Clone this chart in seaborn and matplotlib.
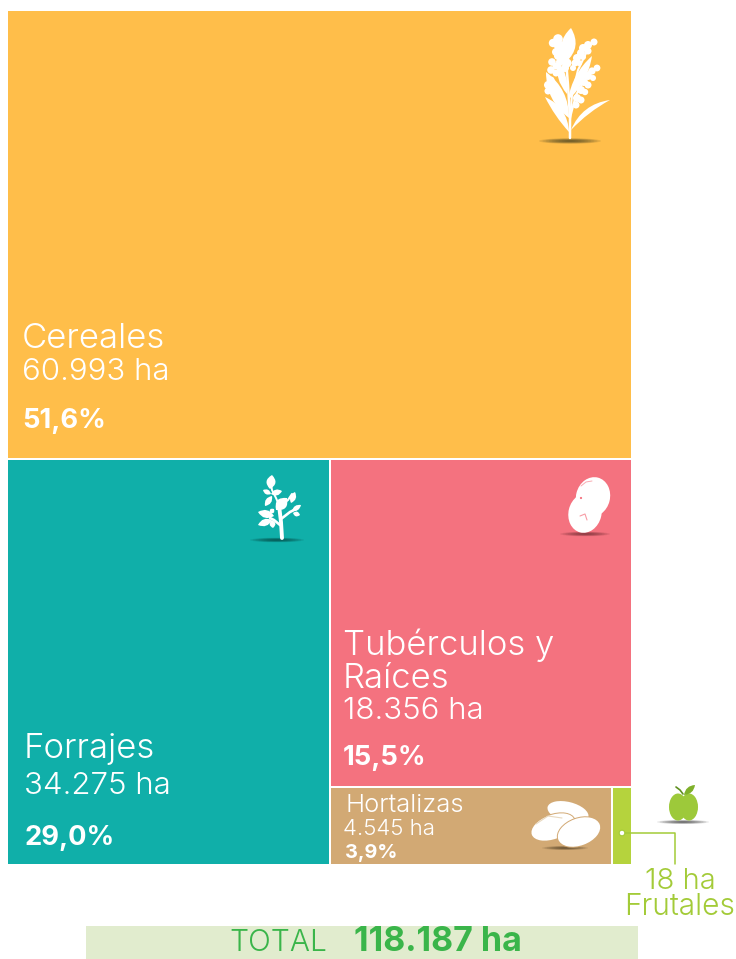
import numpy as np
import pandas as pd
import seaborn as sns
import matplotlib.pyplot as plt
from matplotlib.patches import Circle, Ellipse, PathPatch, Rectangle
from matplotlib.path import Path

cultivos = ['Cereales', 'Forrajes', 'Tubérculos y\nRaíces', 'Hortalizas', 'Frutales']
hectareas = [60993, 34275, 18356, 4545, 18]
porcentajes = [51.6, 29.0, 15.5, 3.9]
total_ha = 118187
colores = ['#FFBE4A', '#10AFA9', '#F4727F', '#D2A974', '#B5D33D']

# el original no es proporcional: Frutales no se veria. Cortes
corte_cereales = 0.5248
corte_forrajes = 0.5168
corte_tuberculos = 0.8070
corte_hortalizas = 0.9320

X0, X1, Y0, Y1 = 6.5, 632.5, 10, 865.5
GAP = 2.4
FUENTE = 'Inter'
VERDE = '#A3CB38'


def miles(n):
    return f'{n:,}'.replace(',', '.')


def coma(p):
    return f'{p:.1f}%'.replace('.', ',')


def layout():
    ancho = X1 - X0
    alto = Y1 - Y0
    y_c = Y0 + alto * corte_cereales
    x_f = X0 + ancho * corte_forrajes
    y_t = y_c + (Y1 - y_c) * corte_tuberculos
    x_h = x_f + (X1 - x_f) * corte_hortalizas
    return pd.DataFrame({
        'cultivo': cultivos,
        'x': [X0, X0, x_f, x_f, x_h],
        'ancho': [ancho, x_f - X0, X1 - x_f, x_h - x_f, X1 - x_h],
        'y': [Y0, y_c, y_c, y_t, y_t],
        'alto': [y_c - Y0, Y1 - y_c, y_t - y_c, Y1 - y_t, Y1 - y_t],
        'color': colores,
    })


def hoja(ax, base, punta, panza, color, z=5, panza2=None):
    # hoja con dos curvas entre la base y la punta
    base = np.array(base, float)
    punta = np.array(punta, float)
    d = punta - base
    n = np.array([-d[1], d[0]]) / np.hypot(*d)
    m = (base + punta) / 2
    p2 = panza if panza2 is None else panza2
    verts = [base, m + n * panza, punta, m - n * p2, base]
    codes = [Path.MOVETO, Path.CURVE3, Path.CURVE3, Path.CURVE3, Path.CURVE3]
    ax.add_patch(PathPatch(Path(verts, codes), fc=color, ec='none', zorder=z))


def tallo(ax, xs, ys, color='white', lw=1.5, z=5):
    ax.plot(xs, ys, color=color, lw=lw, solid_capstyle='round', zorder=z)


def sombra(ax, cx, cy, w, h, oscuro='#3A3A20'):
    for k in np.linspace(1, 0.15, 9):
        ax.add_patch(Ellipse((cx, cy), w * k, h * k, fc=oscuro, ec='none', alpha=0.13, zorder=4))


def espiga(ax, pts, r):
    for (x, y), ri in zip(pts, r):
        ax.add_patch(Circle((x, y), ri, fc='white', ec='none', zorder=5))


def icono_cereal(ax):
    sombra(ax, 570, 141, 62, 5.5)
    tallo(ax, [570, 570, 568, 566], [138, 118, 85, 60], lw=1.8)
    tallo(ax, [570, 572, 578, 590], [120, 95, 70, 45], lw=1.5)
    tallo(ax, [570, 576, 590], [118, 95, 70], lw=1.5)
    hoja(ax, (566, 62), (571, 28), 14, 'white')
    espiga(ax, [(558, 39), (553, 43), (559, 46), (561, 52), (556, 52), (563, 58), (567, 63), (560, 62), (565, 68), (558, 56)],
           [4.8, 4.2, 5, 4.5, 4, 4.5, 4.5, 4, 4, 4])
    espiga(ax, [(594, 42), (588, 45), (583, 48), (588, 51), (581, 53), (577, 58), (583, 57), (575, 63), (579, 63), (573, 68)],
           [3.5, 4, 4, 3.5, 4, 4, 3, 3.5, 3, 3])
    espiga(ax, [(597, 68), (592, 71), (588, 76), (593, 78), (584, 82), (588, 85), (581, 90), (585, 92), (577, 98), (581, 100), (576, 105)],
           [3.4, 3.6, 4, 3, 4, 3.5, 4, 3.2, 4, 3.5, 3.5])
    espiga(ax, [(552, 62), (556, 66), (551, 70), (556, 73), (548, 85), (551, 80), (553, 87), (548, 91), (554, 92)],
           [3.8, 3.5, 3.8, 3.5, 4, 3.5, 3.5, 3.5, 3])
    hoja(ax, (568, 100), (592, 56), 9, 'white')
    hoja(ax, (567, 94), (557, 60), 8, 'white')
    hoja(ax, (569, 118), (546, 72), 13, 'white')
    hoja(ax, (571, 130), (610, 100), -14, 'white', panza2=4)
    hoja(ax, (569, 132), (545, 97), 13, 'white', panza2=3)


def icono_forraje(ax):
    sombra(ax, 277, 540, 54, 4.5, '#063F3C')
    tallo(ax, [282, 281, 279], [538, 522, 505], lw=2.8)
    tallo(ax, [281, 290, 296], [519, 512, 509], lw=1.9)
    tallo(ax, [280, 274, 270], [525, 520, 518], lw=1.9)
    tallo(ax, [279, 276, 272, 271], [505, 498, 490, 484], lw=1.4)
    tallo(ax, [281, 288, 292], [505, 500, 494], lw=1.5)
    hojas = [((270, 489), (272, 475), 9), ((271, 494), (282, 491), 6), ((271, 494), (263, 490), 5),
             ((272, 496), (265, 506), 6), ((291, 503), (295, 492), 6), ((276, 510), (287, 498), 11),
             ((274, 509), (270, 513), 5), ((292, 511), (301, 505), 5), ((293, 513), (300, 515), 5),
             ((274, 516), (258, 512), 8), ((272, 520), (258, 525), 7), ((272, 520), (273, 528), 6)]
    for base, punta, p in hojas:
        hoja(ax, base, punta, p, 'white')


def icono_papa(ax):
    sombra(ax, 585, 534, 50, 4.5, '#6B2A30')
    ax.add_patch(Ellipse((593, 497), 34, 40, angle=14, fc='white', ec='none', zorder=5))
    ax.add_patch(Ellipse((585, 513), 33, 40, angle=14, fc='white', ec='none', zorder=5))
    ax.plot([581, 586, 592], [486, 482, 481], color=colores[2], lw=0.7, alpha=0.6, zorder=6)
    ax.plot([580, 585, 587], [516, 514, 520], color=colores[2], lw=0.8, alpha=0.7, zorder=6)
    ax.add_patch(Circle((581, 498), 1.1, fc=colores[2], ec='none', zorder=6))


def icono_frijol(ax):
    sombra(ax, 565, 848, 46, 4, '#4A3A20')
    for cx, cy, w, h, a in [(568, 812, 42, 20, 14), (553, 827, 45, 24, -20), (579, 832, 44, 27, -20)]:
        ax.add_patch(Ellipse((cx, cy), w + 2, h + 2, angle=a, fc=colores[3], ec='none', zorder=5))
        ax.add_patch(Ellipse((cx, cy), w, h, angle=a, fc='white', ec='none', zorder=5))
    ax.plot([536, 548, 562], [824, 816, 818], color='#E8D8BE', lw=0.8, zorder=6)


def icono_manzana(ax):
    sombra(ax, 683, 822, 52, 4, '#333333')
    ax.add_patch(Ellipse((678, 807), 18, 27, fc='#9DC93A', ec='none', zorder=5))
    ax.add_patch(Ellipse((689, 807), 18, 27, fc='#9DC93A', ec='none', zorder=5))
    tallo(ax, [683, 680, 676], [794, 790, 787], color='#5F8F1F', lw=1.2)
    hoja(ax, (684, 795), (695, 785), 6, '#7FB02A')


sns.set_theme(style='white')
plt.rcParams['font.family'] = [FUENTE, 'DejaVu Sans']

fig = plt.figure(figsize=(7.36, 9.59), dpi=100, facecolor='white')
ax = fig.add_axes([0, 0, 1, 1])

tiles = layout()
for _, t in tiles.iterrows():
    # cada bloque es una barra, con su base y su ancho
    sns.barplot(x=[t['x'] + t['ancho'] / 2], y=[t['alto'] - GAP], native_scale=True,
                width=t['ancho'] - GAP, bottom=t['y'] + GAP / 2, color=t['color'],
                saturation=1, linewidth=0, ax=ax, errorbar=None)

ax.set_xlim(0, 736)
ax.set_ylim(959, 0)
ax.axis('off')


def rotulo(x, y, txt, size, peso=300, color='white', ha='left', z=7):
    ax.text(x, y, txt, fontsize=size, fontweight=peso, color=color, ha=ha, va='baseline', zorder=z)


rotulo(22, 348, cultivos[0], 25)
rotulo(22, 380, f'{miles(hectareas[0])} ha', 22.5)
rotulo(22, 428, coma(porcentajes[0]), 19.7, 700)

rotulo(24, 758, cultivos[1], 25)
rotulo(24, 794, f'{miles(hectareas[1])} ha', 22.5)
rotulo(24, 845, coma(porcentajes[1]), 19.7, 700)

rotulo(343, 655, 'Tubérculos y', 25)
rotulo(343, 688, 'Raíces', 25)
rotulo(343, 719, f'{miles(hectareas[2])} ha', 22.5)
rotulo(343, 765, coma(porcentajes[2]), 19.7, 700)

rotulo(346, 812, cultivos[3], 18.5)
rotulo(343, 835, f'{miles(hectareas[3])} ha', 16)
rotulo(345, 858, coma(porcentajes[3]), 14.3, 700)

icono_cereal(ax)
icono_forraje(ax)
icono_papa(ax)
icono_frijol(ax)
icono_manzana(ax)

# linea de Frutales
ax.plot([622, 675, 675], [833, 833, 864], color=VERDE, lw=1.1, zorder=6)
ax.add_patch(Circle((622, 833), 2.8, fc='white', ec=VERDE, lw=0.8, zorder=7))
rotulo(680, 889, f'{hectareas[4]} ha', 21, color=VERDE, ha='center')
rotulo(680, 915, cultivos[4], 21.5, color=VERDE, ha='center')

ax.add_patch(Rectangle((86, 926), 552, 33, fc='#E1ECCE', ec='none', zorder=1))
rotulo(229, 951, 'TOTAL', 21.5, color='#3AB54A')
rotulo(354, 951, f'{miles(total_ha)} ha', 24.5, 700, color='#3AB54A')

fig.savefig('out.png', dpi=100, facecolor='white')
